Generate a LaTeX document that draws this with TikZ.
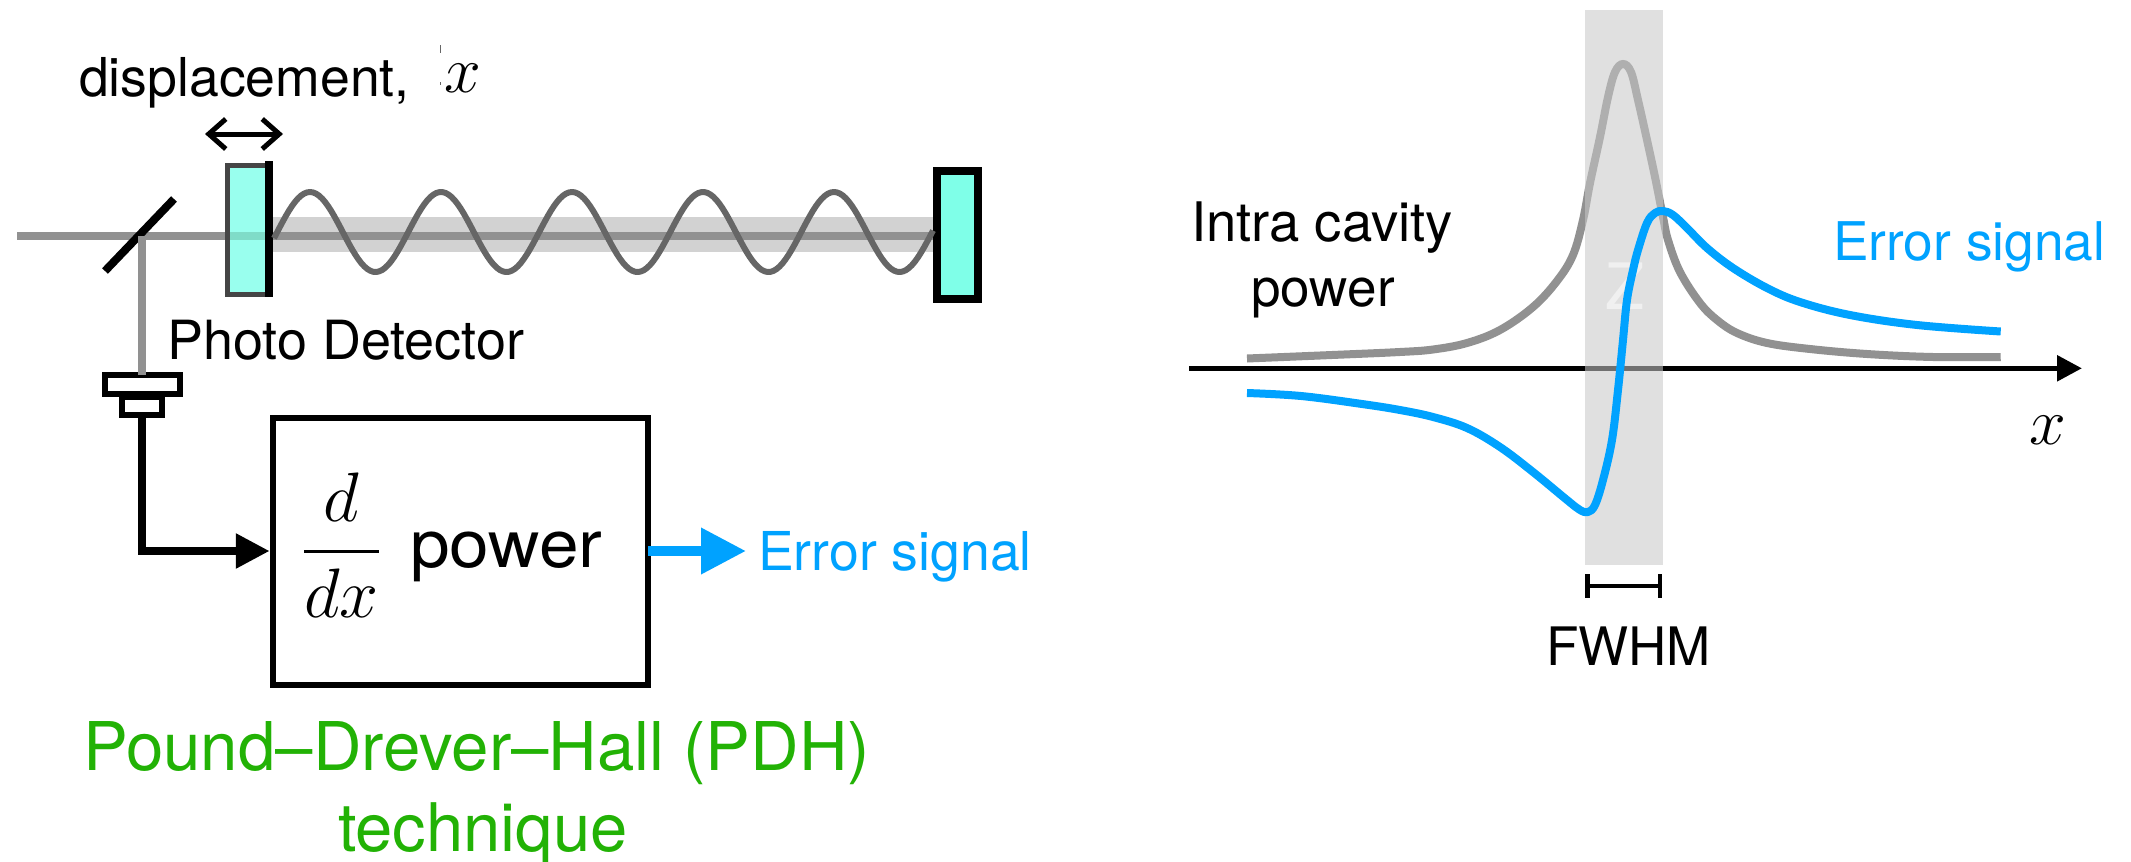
\RequirePackage{fix-cm}
\documentclass[tikz,border=0pt]{standalone}
\usepackage{fontspec}
\setmainfont{TeX Gyre Heros}
\usetikzlibrary{arrows.meta}
\definecolor{beamgray}{HTML}{919191}
\definecolor{bandgray}{HTML}{D2D2D2}
\definecolor{wavegray}{HTML}{666666}
\definecolor{errblue}{HTML}{00A2FF}
\definecolor{pdhgreen}{HTML}{22B205}
\definecolor{mirrorA}{HTML}{99FFEE}
\definecolor{mirrorB}{HTML}{7FFFE8}
\definecolor{mirrorBeam}{HTML}{7FDCC8}
\definecolor{fwhmband}{HTML}{C8C8C8}
\newcommand{\fs}[1]{\fontsize{#1}{#1}\selectfont}
\tikzset{
  lbl/.style={inner sep=0pt,outer sep=0pt,anchor=base west},
  pdbox/.style={draw=black,fill=white,line width=6pt,inner sep=0pt,outer sep=0pt},
  powercurve/.style={draw=beamgray,line width=8pt},
  errcurve/.style={draw=errblue,line width=8pt,line join=round},
}
\begin{document}
\begin{tikzpicture}[x=1pt,y=-1pt]
\path[use as bounding box] (0,0) rectangle (2131,862);

% ---------- left: cavity ----------
\fill[bandgray] (270,217) rectangle (935,252);
\coordinate (beamstart) at (17,236);
\coordinate (beamend) at (935,236);
\coordinate (split) at (142,236);
\draw[beamgray,line width=8pt] (beamstart) -- (beamend);
\draw[black,line width=8pt] (174,199) -- (105,271);

\node[pdbox,minimum width=75pt,minimum height=19pt] (pdtop) at (142,384) {};
\node[pdbox,minimum width=40pt,minimum height=18pt] (pdlow) at (142,405.5) {};
\draw[beamgray,line width=7.5pt] (split) -- (pdtop.north);

\fill[mirrorA] (227,164) rectangle (269,295);
\fill[mirrorBeam] (227,232) rectangle (269,240);
\draw[black!73,line width=5pt] (269,165) -- (227,165) -- (227,294) -- (269,294);
\draw[black,line width=8pt] (269,161) -- (269,297);
\node[draw=black,fill=mirrorB,line width=8pt,minimum width=41pt,minimum height=128pt,inner sep=0pt,outer sep=0pt] (mirrorR) at (957.5,235) {};

\draw[wavegray,line width=6pt,line join=round] plot[domain=274:933,samples=220] (\x,{232-40*cos((\x-310)/131*360)});

\draw[black,line width=5pt,{Straight Barb[length=17pt,width=30pt]}-{Straight Barb[length=17pt,width=30pt]}] (205,134) -- (283,134);

\node[lbl,font=\fs{53.6}] (disp) at (79,96) {displacement,};
\node[lbl,font=\fs{66}] (dispx) at (444,92.5) {$x$};
\draw[black!60,line width=1pt] (440,45) -- (440,53) (440,82) -- (440,85);
\node[lbl,font=\fs{54}] (pd) at (167,359) {Photo Detector};

% ---------- left: block ----------
\node[draw=black,fill=white,line width=6pt,minimum width=375.5pt,minimum height=267pt,inner sep=0pt,outer sep=0pt] (box) at (460.5,551) {};
\node[lbl,font=\fs{70}] (frac) at (303,569) {$\displaystyle{d\above 3.5pt dx}$};
\node[lbl,font=\fs{66},xscale=1.08] (pw) at (410,567) {power};
\draw[black,line width=8.5pt,shorten >=3pt,-{Triangle[length=34pt,width=33pt]}] (pdlow.south) |- (box.west);
\coordinate (errtip) at (746,551);
\draw[errblue,line width=10pt,-{Triangle[length=45pt,width=44pt]}] (box.east) -- (errtip);
\node[lbl,font=\fs{53.6},text=errblue] (errL) at (758,570) {Error signal};
\node[lbl,font=\fs{67.2},text=pdhgreen] (pdh) at (83,770) {Pound–Drever–Hall (PDH)};
\node[lbl,font=\fs{67},text=pdhgreen] (tech) at (338,851) {technique};

% ---------- right: plot ----------
\coordinate (axL) at (1189,368.3);
\coordinate (axR) at (2082,368.3);
\draw[black,line width=5.5pt,-{Triangle[length=25pt,width=25pt]}] (axL) -- (axR);
\draw[powercurve] plot[smooth,tension=0.6] coordinates {
  (1247,358.5) (1332,355) (1400,352) (1433,349.5) (1467,343) (1500,330) (1533,307) (1557,281)
  (1573,255) (1583,220) (1590,183) (1600,137) (1608,97) (1615,72) (1623,64) (1631,72) (1638,100)
  (1647,140) (1655,177) (1663,217) (1668,240) (1680,272) (1700,303) (1717,320) (1737,333)
  (1767,343) (1810,349) (1867,354) (1933,357) (2000.7,357)};
\fill[fwhmband,opacity=0.56] (1585,10) rectangle (1663,565);
\node[font=\fs{64},text=black!6,inner sep=0pt] (zmark) at (1625,286) {Z};
\draw[errcurve] plot[smooth,tension=0.6] coordinates {
  (1247,393) (1301,396) (1362,404) (1400,410) (1433,417) (1467,428) (1500,447) (1533,472)
  (1567,500) (1580,510) (1588,512) (1595,505) (1603,480) (1612,440) (1618,390) (1623,340)
  (1627,300) (1633,270) (1638,250) (1647,223) (1655,213) (1663,211) (1673,215) (1687,228)
  (1707,248) (1733,268) (1767,288) (1800,302) (1850,315) (1917,325) (2000.7,331.5)};
\coordinate (fwL) at (1587.5,586);
\coordinate (fwR) at (1660,586);
\draw[black,line width=4.5pt] (fwL) -- (fwR);
\draw[black,line width=4.5pt] (1587.5,574) -- (1587.5,598) (1660,574) -- (1660,598);
\node[lbl,font=\fs{53},] (fwhm) at (1546,665) {FWHM};
\node[lbl,font=\fs{54.5}] (intra) at (1191,241) {Intra cavity};
\node[lbl,font=\fs{53},anchor=base] (power2) at (1323,306) {power};
\node[lbl,font=\fs{53.3},text=errblue] (errR) at (1833,260) {Error signal};
\node[lbl,font=\fs{66}] (xlab) at (2029,444) {$x$};
\end{tikzpicture}
\end{document}
